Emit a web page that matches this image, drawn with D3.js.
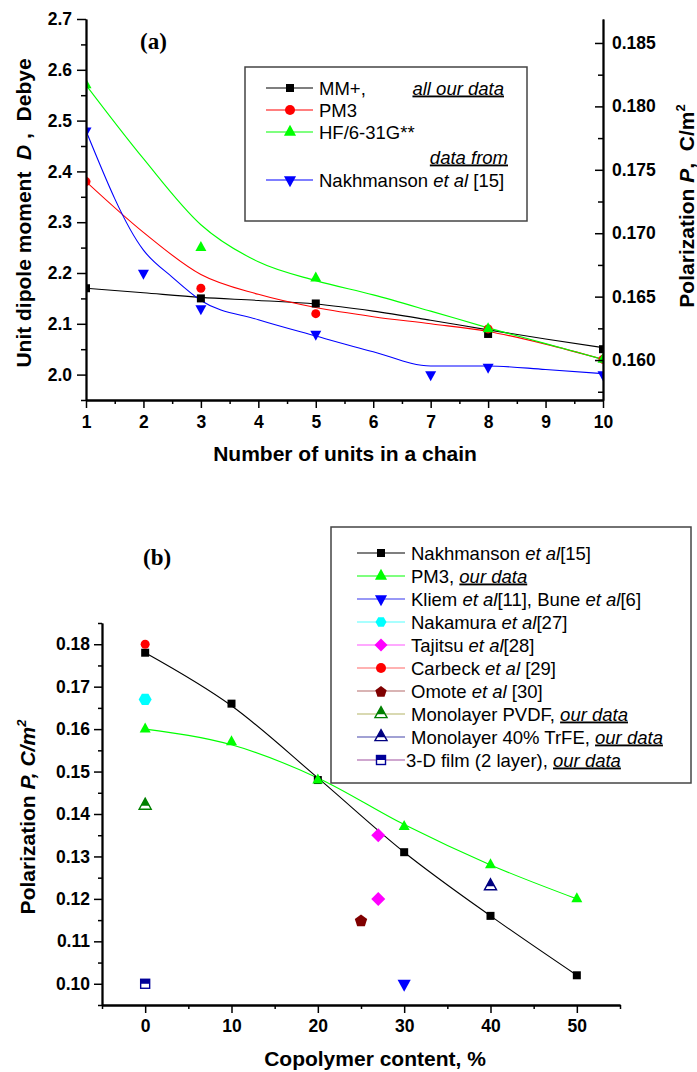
<!DOCTYPE html>
<html><head><meta charset="utf-8">
<script src="https://cdn.jsdelivr.net/npm/d3@7"></script>
<style>
body{margin:0;background:#fff;}
svg{display:block;font-family:"Liberation Sans",Arial,sans-serif;}
text{white-space:pre;}
</style></head><body>
<script>
// ---------- Panel (a) data ----------
const chainUnits = [1, 3, 5, 8, 10];
const mmPlus = [2.17, 2.15, 2.14, 2.08, 2.05];
const pm3 = [2.38, 2.17, 2.12, 2.09, 2.03];
const hf631 = [2.57, 2.25, 2.19, 2.09, 2.03];
const nakhUnits = [1, 2, 3, 5, 7, 8, 10];
const nakhDipole = [2.48, 2.20, 2.13, 2.08, 2.00, 2.015, 2.00];
// fitted curves
const fitUnits = [1, 2, 3, 4, 5, 6, 7, 8, 9, 10];
const mmPlusFit = [2.170, 2.161, 2.152, 2.146, 2.139, 2.125, 2.107, 2.088, 2.070, 2.053];
const pm3Fit = [2.380, 2.280, 2.197, 2.158, 2.132, 2.114, 2.100, 2.085, 2.060, 2.030];
const hf631Fit = [2.570, 2.425, 2.295, 2.222, 2.185, 2.157, 2.125, 2.092, 2.061, 2.030];
const nakhFitUnits = [1, 2, 2.5, 3, 4, 5, 6, 7, 8, 9, 10];
const nakhFit = [2.480, 2.245, 2.192, 2.146, 2.108, 2.076, 2.045, 2.017, 2.017, 2.010, 2.002];
const xTicksA = [1, 2, 3, 4, 5, 6, 7, 8, 9, 10];
const yTicksA = [2.0, 2.1, 2.2, 2.3, 2.4, 2.5, 2.6, 2.7];
const y2TicksA = [0.160, 0.165, 0.170, 0.175, 0.180, 0.185];

// ---------- Panel (b) data ----------
const copolymer = [0, 10, 20, 30, 40, 50];
const nakhP = [0.178, 0.166, 0.148, 0.131, 0.116, 0.102];
const pm3P = [0.160, 0.157, 0.148, 0.137, 0.128, 0.120];
const nakhPFit = [0.178, 0.1655, 0.1485, 0.131, 0.116, 0.102];
const pm3PFit = [0.160, 0.1563, 0.1485, 0.1375, 0.128, 0.120];
const kliemX = [30], kliemP = [0.100];
const nakamuraX = [0], nakamuraP = [0.167];
const tajitsuX = [27, 27], tajitsuP = [0.135, 0.120];
const carbeckX = [0], carbeckP = [0.180];
const omoteX = [25], omoteP = [0.115];
const pvdfX = [0], pvdfP = [0.142];
const trfeX = [40], trfeP = [0.123];
const filmX = [0], filmP = [0.100];
const xTicksB = [0, 10, 20, 30, 40, 50];
const yTicksB = [0.10, 0.11, 0.12, 0.13, 0.14, 0.15, 0.16, 0.17, 0.18];

const W = 697, H = 1072;
const svg = d3.select("body").append("svg").attr("width", W).attr("height", H);

// ---------- marker helper ----------
function marker(g, type, x, y, color, s, stroke) {
  const m = g.append("g").attr("transform", `translate(${x},${y})`);
  if (type === "square") {
    m.append("rect").attr("x", -s/2).attr("y", -s/2).attr("width", s).attr("height", s).attr("fill", color);
  } else if (type === "circle") {
    m.append("circle").attr("r", s/2).attr("fill", color);
  } else if (type === "up" || type === "down") {
    const w = s * 1.1, h = s;
    const sg = type === "up" ? 1 : -1;
    const pts = [[0, -2*h/3*sg], [w/2, h/3*sg], [-w/2, h/3*sg]];
    m.append("polygon").attr("points", pts.map(p => p.join(",")).join(" ")).attr("fill", color);
  } else if (type === "diamond") {
    const pts = [[0, -s/2], [s/2, 0], [0, s/2], [-s/2, 0]];
    m.append("polygon").attr("points", pts.map(p => p.join(",")).join(" ")).attr("fill", color);
  } else if (type === "hexagon") {
    const r = s/2;
    const pts = d3.range(6).map(k => [r*Math.cos(k*Math.PI/3), r*Math.sin(k*Math.PI/3)]);
    m.append("polygon").attr("points", pts.map(p => p.join(",")).join(" ")).attr("fill", color);
  } else if (type === "pentagon") {
    const r = s/2;
    const pts = d3.range(5).map(k => [r*Math.cos(-Math.PI/2 + k*2*Math.PI/5), r*Math.sin(-Math.PI/2 + k*2*Math.PI/5) + 1]);
    m.append("polygon").attr("points", pts.map(p => p.join(",")).join(" ")).attr("fill", color);
  } else if (type === "halfup") {
    const w = s * 1.1, h = s;
    const pts = [[0, -2*h/3], [w/2, h/3], [-w/2, h/3]];
    const yc = h/3 - h*0.32;
    const f = (yc + 2*h/3) / h;
    const top = [[0, -2*h/3], [w/2*f, yc], [-w/2*f, yc]];
    m.append("polygon").attr("points", pts.map(p => p.join(",")).join(" ")).attr("fill", "#fff").attr("stroke", stroke || color).attr("stroke-width", 1.4);
    m.append("polygon").attr("points", top.map(p => p.join(",")).join(" ")).attr("fill", color);
  } else if (type === "halfsquare") {
    m.append("rect").attr("x", -s/2).attr("y", -s/2).attr("width", s).attr("height", s).attr("fill", "#fff").attr("stroke", color).attr("stroke-width", 1.4);
    m.append("rect").attr("x", -s/2).attr("y", -s/2).attr("width", s).attr("height", s/2).attr("fill", color);
  }
}

function styleAxis(g) {
  g.attr("font-size", 17.5).attr("font-family", "Liberation Sans, Arial, sans-serif").attr("font-weight", "bold");
  g.selectAll("path.domain").attr("stroke", "#000").attr("stroke-width", 1.8);
  g.selectAll(".tick line").attr("stroke", "#000").attr("stroke-width", 1.5);
  g.selectAll("text").attr("fill", "#000");
}

// =============== Panel (a) ===============
const xA = d3.scaleLinear([1, 10], [86, 603]);
const yA = d3.scaleLinear([1.95, 2.7], [400, 19]);
const yA2 = d3.scaleLinear([0.15685, 0.18689], [400, 19]);

svg.append("clipPath").attr("id", "clipA").append("rect")
  .attr("x", 86).attr("y", 19).attr("width", 517).attr("height", 381);

const gA = svg.append("g").attr("clip-path", "url(#clipA)");
const lineA = (xs, ys) => d3.line().x((d, i) => xA(xs[i])).y(d => yA(d)).curve(d3.curveMonotoneX)(ys);
gA.append("path").attr("d", lineA(fitUnits, mmPlusFit)).attr("fill", "none").attr("stroke", "#000").attr("stroke-width", 1.1);
gA.append("path").attr("d", lineA(fitUnits, pm3Fit)).attr("fill", "none").attr("stroke", "#ff0000").attr("stroke-width", 1.1);
gA.append("path").attr("d", lineA(fitUnits, hf631Fit)).attr("fill", "none").attr("stroke", "#00ff00").attr("stroke-width", 1.1);
gA.append("path").attr("d", lineA(nakhFitUnits, nakhFit)).attr("fill", "none").attr("stroke", "#0000ff").attr("stroke-width", 1.1);

chainUnits.forEach((u, i) => marker(gA, "square", xA(u), yA(mmPlus[i]), "#000", 8));
chainUnits.forEach((u, i) => marker(gA, "circle", xA(u), yA(pm3[i]), "#ff0000", 9));
chainUnits.forEach((u, i) => marker(gA, "up", xA(u), yA(hf631[i]), "#00ff00", 10));
nakhUnits.forEach((u, i) => marker(gA, "down", xA(u), yA(nakhDipole[i]), "#0000ff", 10));

// axes
const axA_x = svg.append("g").attr("transform", "translate(0,400)")
  .call(d3.axisBottom(xA).tickValues(xTicksA).tickFormat(d3.format("d")).tickSize(8).tickSizeOuter(0).tickPadding(8));
styleAxis(axA_x);
const axA_xm = svg.append("g").attr("transform", "translate(0,400)")
  .call(d3.axisBottom(xA).tickValues(d3.range(1.5, 10, 1)).tickFormat("").tickSize(4).tickSizeOuter(0));
styleAxis(axA_xm);
const axA_y = svg.append("g").attr("transform", "translate(86,0)")
  .call(d3.axisLeft(yA).tickValues(yTicksA).tickFormat(d3.format(".1f")).tickSize(9).tickSizeOuter(0).tickPadding(5));
styleAxis(axA_y);
const axA_ym = svg.append("g").attr("transform", "translate(86,0)")
  .call(d3.axisLeft(yA).tickValues(d3.range(1.95, 2.7, 0.1)).tickFormat("").tickSize(5).tickSizeOuter(0));
styleAxis(axA_ym);
const axA_y2 = svg.append("g").attr("transform", "translate(603,0)")
  .call(d3.axisRight(yA2).tickValues(y2TicksA).tickFormat(d3.format(".3f")).tickSize(-8).tickSizeOuter(0).tickPadding(9));
styleAxis(axA_y2);
const axA_y2m = svg.append("g").attr("transform", "translate(603,0)")
  .call(d3.axisRight(yA2).tickValues(d3.range(0.1575, 0.186, 0.005)).tickFormat("").tickSize(-5).tickSizeOuter(0));
styleAxis(axA_y2m);

// titles
svg.append("text").attr("x", 345).attr("y", 461).attr("text-anchor", "middle")
  .attr("font-size", 21).attr("font-weight", "bold").text("Number of units in a chain");
const tA = svg.append("text").attr("transform", "translate(31,213) rotate(-90)").attr("text-anchor", "middle")
  .attr("font-size", 21).attr("font-weight", "bold");
tA.append("tspan").text("Unit dipole moment  ");
tA.append("tspan").attr("font-style", "italic").text("D");
tA.append("tspan").text(" ,  Debye");
const tA2 = svg.append("text").attr("transform", "translate(694,206) rotate(-90)").attr("text-anchor", "middle")
  .attr("font-size", 21).attr("font-weight", "bold");
tA2.append("tspan").text("Polarization ");
tA2.append("tspan").attr("font-style", "italic").text("P");
tA2.append("tspan").text(",  C/m");
tA2.append("tspan").attr("dy", -9).attr("font-size", 13).text("2");
svg.append("text").attr("x", 140).attr("y", 49).attr("font-family", "Liberation Serif, Times New Roman, serif")
  .attr("font-size", 23).attr("font-weight", "bold").text("(a)");

// legend (a)
const lgA = svg.append("g");
lgA.append("rect").attr("x", 245).attr("y", 67).attr("width", 282).attr("height", 154)
  .attr("fill", "#fff").attr("stroke", "#444").attr("stroke-width", 1.5);
const legA = [
  {y: 88, c: "#000", m: "square", s: 8, parts: [["MM+,", ""]]},
  {y: 110, c: "#ff0000", m: "circle", s: 10, parts: [["PM3", ""]]},
  {y: 132, c: "#00ff00", m: "up", s: 11, parts: [["HF/6-31G**", ""]]},
  {y: 180, c: "#0000ff", m: "down", s: 11, parts: [["Nakhmanson ", ""], ["et al", "i"], [" [15]", ""]]}
];
legA.forEach(e => {
  lgA.append("line").attr("x1", 266).attr("x2", 313).attr("y1", e.y).attr("y2", e.y).attr("stroke", e.c).attr("stroke-width", 1.1);
  marker(lgA, e.m, 290, e.y, e.c, e.s);
  const t = lgA.append("text").attr("x", 319).attr("y", e.y + 6.5).attr("font-size", 18.5);
  e.parts.forEach(p => { const ts = t.append("tspan").text(p[0]); if (p[1] === "i") ts.attr("font-style", "italic"); });
});
lgA.append("text").attr("x", 504).attr("y", 94.5).attr("text-anchor", "end").attr("font-size", 18.5)
  .attr("font-style", "italic").attr("text-decoration", "underline").text("all our data");
lgA.append("text").attr("x", 508).attr("y", 163.5).attr("text-anchor", "end").attr("font-size", 18.5)
  .attr("font-style", "italic").attr("text-decoration", "underline").text("data from");

// =============== Panel (b) ===============
const xB = d3.scaleLinear([-5, 55], [102, 620]);
const yB = d3.scaleLinear([0.095, 0.185], [1005, 623]);
const gB = svg.append("g");
const lineB = (xs, ys) => d3.line().x((d, i) => xB(xs[i])).y(d => yB(d)).curve(d3.curveMonotoneX)(ys);
gB.append("path").attr("d", lineB(copolymer, nakhPFit)).attr("fill", "none").attr("stroke", "#000").attr("stroke-width", 1.1);
gB.append("path").attr("d", lineB(copolymer, pm3PFit)).attr("fill", "none").attr("stroke", "#00ff00").attr("stroke-width", 1.1);

copolymer.forEach((c, i) => marker(gB, "square", xB(c), yB(nakhP[i]), "#000", 8));
copolymer.forEach((c, i) => marker(gB, "up", xB(c), yB(pm3P[i]), "#00ff00", 10));
kliemX.forEach((c, i) => marker(gB, "down", xB(c), yB(kliemP[i]), "#0000ff", 12));
nakamuraX.forEach((c, i) => marker(gB, "hexagon", xB(c), yB(nakamuraP[i]), "#00ffff", 13));
tajitsuX.forEach((c, i) => marker(gB, "diamond", xB(c), yB(tajitsuP[i]), "#ff00ff", 14));
carbeckX.forEach((c, i) => marker(gB, "circle", xB(c), yB(carbeckP[i]), "#ff0000", 9));
omoteX.forEach((c, i) => marker(gB, "pentagon", xB(c), yB(omoteP[i]), "#800000", 13));
pvdfX.forEach((c, i) => marker(gB, "halfup", xB(c), yB(pvdfP[i]), "#008000", 11));
trfeX.forEach((c, i) => marker(gB, "halfup", xB(c), yB(trfeP[i]), "#000080", 11));
filmX.forEach((c, i) => marker(gB, "halfsquare", xB(c), yB(filmP[i]), "#000099", 9));

const axB_x = svg.append("g").attr("transform", "translate(0,1005)")
  .call(d3.axisBottom(xB).tickValues(xTicksB).tickFormat(d3.format("d")).tickSize(8).tickSizeOuter(0).tickPadding(7));
styleAxis(axB_x);
const axB_xm = svg.append("g").attr("transform", "translate(0,1005)")
  .call(d3.axisBottom(xB).tickValues(d3.range(-5, 56, 10)).tickFormat("").tickSize(4).tickSizeOuter(0));
styleAxis(axB_xm);
const axB_y = svg.append("g").attr("transform", "translate(102,0)")
  .call(d3.axisLeft(yB).tickValues(yTicksB).tickFormat(d3.format(".2f")).tickSize(8).tickSizeOuter(0).tickPadding(4));
styleAxis(axB_y);
const axB_ym = svg.append("g").attr("transform", "translate(102,0)")
  .call(d3.axisLeft(yB).tickValues(d3.range(0.095, 0.186, 0.01)).tickFormat("").tickSize(4).tickSizeOuter(0));
styleAxis(axB_ym);

svg.append("text").attr("x", 375).attr("y", 1066).attr("text-anchor", "middle")
  .attr("font-size", 21).attr("font-weight", "bold").text("Copolymer content, %");
const tB = svg.append("text").attr("transform", "translate(35,817) rotate(-90)").attr("text-anchor", "middle")
  .attr("font-size", 21).attr("font-weight", "bold");
tB.append("tspan").text("Polarization ");
tB.append("tspan").attr("font-style", "italic").text("P, C/m");
tB.append("tspan").attr("dy", -9).attr("font-size", 13).attr("font-style", "italic").text("2");
svg.append("text").attr("x", 143).attr("y", 565).attr("font-family", "Liberation Serif, Times New Roman, serif")
  .attr("font-size", 23).attr("font-weight", "bold").text("(b)");

// legend (b)
const lgB = svg.append("g");
lgB.append("rect").attr("x", 331).attr("y", 527).attr("width", 360).attr("height", 256)
  .attr("fill", "#fff").attr("stroke", "#444").attr("stroke-width", 1.5);
const legB = [
  {lc: "#000", mc: "#000", m: "square", s: 8, parts: [["Nakhmanson ", ""], ["et al", "i"], ["[15]", ""]]},
  {lc: "#00ff00", mc: "#00ff00", m: "up", s: 11, parts: [["PM3, ", ""], ["our data", "u"]]},
  {lc: "#3333ee", mc: "#0000ff", m: "down", s: 11, parts: [["Kliem ", ""], ["et al", "i"], ["[11], Bune ", ""], ["et al", "i"], ["[6]", ""]]},
  {lc: "#55ffff", mc: "#00ffff", m: "hexagon", s: 11, parts: [["Nakamura ", ""], ["et al", "i"], ["[27]", ""]]},
  {lc: "#ff55ff", mc: "#ff00ff", m: "diamond", s: 13, parts: [["Tajitsu ", ""], ["et al", "i"], ["[28]", ""]]},
  {lc: "#ff6666", mc: "#ff0000", m: "circle", s: 10, parts: [["Carbeck ", ""], ["et al", "i"], [" [29]", ""]]},
  {lc: "#b36b6b", mc: "#800000", m: "pentagon", s: 12, parts: [["Omote ", ""], ["et al", "i"], [" [30]", ""]]},
  {lc: "#b3b366", mc: "#008000", m: "halfup", s: 11, parts: [["Monolayer PVDF, ", ""], ["our data", "u"]]},
  {lc: "#4444aa", mc: "#000080", m: "halfup", s: 11, parts: [["Monolayer 40% TrFE, ", ""], ["our data", "u"]]},
  {lc: "#a050a0", mc: "#000099", m: "halfsquare", s: 9, parts: [["3-D film (2 layer), ", ""], ["our data", "u"]], tx: 406}
];
legB.forEach((e, i) => {
  const y = 553 + 23 * i;
  lgB.append("line").attr("x1", 357).attr("x2", 405).attr("y1", y).attr("y2", y).attr("stroke", e.lc).attr("stroke-width", 1.2);
  marker(lgB, e.m, 381, y, e.mc, e.s);
  const t = lgB.append("text").attr("x", e.tx || 411).attr("y", y + 6.5).attr("font-size", 18.5);
  e.parts.forEach(p => {
    const ts = t.append("tspan").text(p[0]);
    if (p[1] === "i") ts.attr("font-style", "italic");
    if (p[1] === "u") ts.attr("font-style", "italic").attr("text-decoration", "underline");
  });
});
</script>
</body></html>
